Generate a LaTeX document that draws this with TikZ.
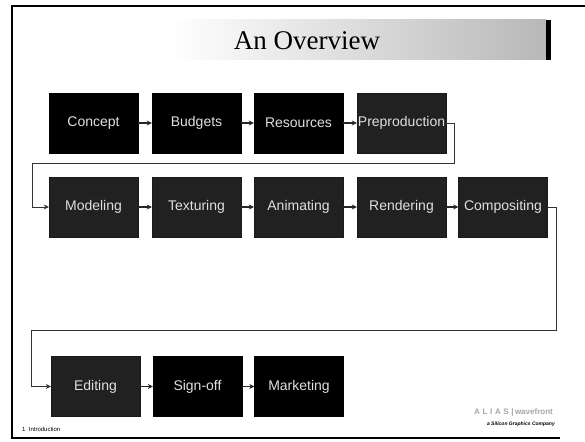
\documentclass[tikz,border=0pt]{standalone}
\usepackage{fontspec}
\setmainfont{Liberation Serif}
\newfontfamily\boxfont{Liberation Sans}
\usetikzlibrary{arrows.meta}
\begin{document}
\begin{tikzpicture}[x=1pt,y=-1pt,
  blk/.style={draw=black, fill=black, minimum width=89pt, minimum height=60pt, inner sep=0pt,
              font=\boxfont\fontsize{14}{16}\selectfont, text=white!88!black},
  dith/.style={blk, draw=black!90, fill=black!87},
  link/.style={draw=black!85, line width=1.1pt, -{Stealth[length=5pt,width=5pt]}},
  route/.style={draw=black!80, line width=0.9pt, -{Stealth[length=5pt,width=5pt]}}
  ]
\useasboundingbox (0,0) rectangle (585,441);
\fill[white] (0,0) rectangle (585,441);
% frame
\draw[line width=1.5pt] (585,6) -- (12,6) -- (12,438) -- (560,438);
% title band
\shade[left color=white, right color=black!28] (172,20) rectangle (546,60);
\fill[black] (546,20) rectangle (551,60);
\node[font=\fontsize{27}{30}\selectfont, anchor=base] (title) at (307,50) {An Overview};
% row 1
\node[blk]  (concept)   at (93.5,123)  {Concept};
\node[blk]  (budgets)   at (196.5,123) {Budgets};
\node[blk]  (resources) at (298.5,123) {Resources};
\node[dith] (prepro)    at (401.5,123) {Preproduction};
% row 2
\node[dith] (modeling)    at (93.5,207)  {Modeling};
\node[dith] (texturing)   at (196.5,207) {Texturing};
\node[dith] (animating)   at (298.5,207) {Animating};
\node[dith] (rendering)   at (401.5,207) {Rendering};
\node[dith] (compositing) at (503,207)   {Compositing};
% row 3
\node[dith] (editing)   at (95.5,386.5)  {Editing};
\node[blk]  (signoff)   at (197.5,386.5) {Sign-off};
\node[blk]  (marketing) at (299,386.5)   {Marketing};
% connectors
\draw[link] (concept) -- (budgets);
\draw[link] (budgets) -- (resources);
\draw[link] (resources) -- (prepro);
\draw[link] (modeling) -- (texturing);
\draw[link] (texturing) -- (animating);
\draw[link] (animating) -- (rendering);
\draw[link] (rendering) -- (compositing);
\draw[link] (editing) -- (signoff);
\draw[link] (signoff) -- (marketing);
\coordinate (r1) at (454,163);
\coordinate (l1) at (32,163);
\draw[route] (prepro.east) -| (r1) -- (l1) |- (modeling.west);
\coordinate (r2) at (556,330);
\coordinate (l2) at (31,330);
\draw[route] (compositing.east) -| (r2) -- (l2) |- (editing.west);
% footer
\node[font=\boxfont\fontsize{6}{7}\selectfont, anchor=base west, inner sep=0pt] (intro) at (22,431) {1\ \ Introduction};
\node[text=black!35, font=\boxfont\bfseries\fontsize{8}{9}\selectfont, anchor=base east, inner sep=0pt] (logo) at (553,414) {A\,\,L\,\,I\,\,A\,\,S\,\,|\,wavefront};
\node[font=\boxfont\bfseries\itshape\fontsize{5}{6}\selectfont, anchor=base east, inner sep=0pt] (sgi) at (555,425) {a Silicon Graphics Company};
\end{tikzpicture}
\end{document}
